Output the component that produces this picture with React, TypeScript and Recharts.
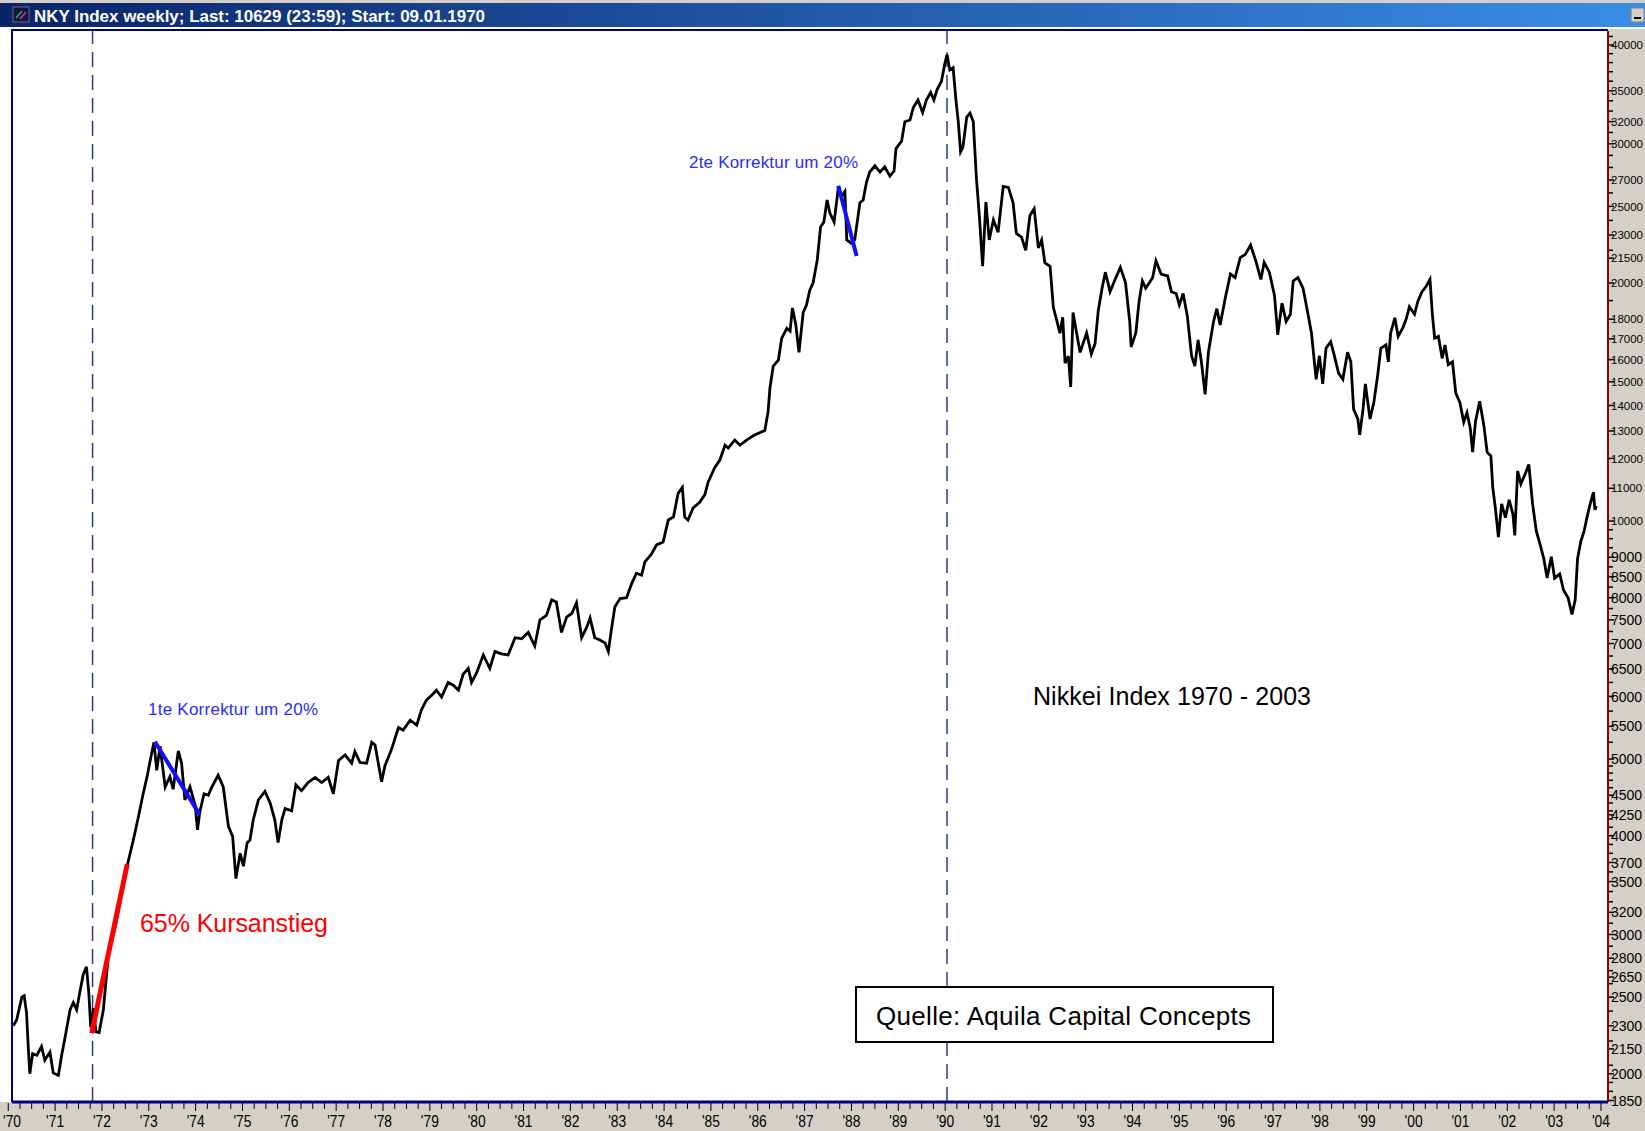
import React from "react";
import { LineChart, Line, XAxis, YAxis, ReferenceLine } from "recharts";

// weekly closes (decimal year, index points)
const weekDates = [
  1970.11, 1970.18, 1970.29, 1970.34, 1970.39, 1970.43, 1970.46, 1970.52, 1970.61, 1970.71,
  1970.78, 1970.89, 1970.96, 1971.07, 1971.14, 1971.21, 1971.32, 1971.39, 1971.46, 1971.53,
  1971.6, 1971.67, 1971.72, 1971.76, 1971.82, 1971.87, 1971.94, 1972.03, 1972.14, 1972.28,
  1972.42, 1972.56, 1972.67, 1972.78, 1972.88, 1972.97, 1973.03, 1973.11, 1973.17, 1973.24,
  1973.35, 1973.45, 1973.52, 1973.63, 1973.7, 1973.77, 1973.88, 1973.99, 1974.04, 1974.09,
  1974.18, 1974.27, 1974.34, 1974.48, 1974.59, 1974.7, 1974.79, 1974.86, 1974.95, 1975.02,
  1975.1, 1975.16, 1975.23, 1975.34, 1975.48, 1975.59, 1975.69, 1975.76, 1975.84, 1975.91,
  1976.05, 1976.14, 1976.26, 1976.4, 1976.55, 1976.69, 1976.83, 1976.94,
  1977.05, 1977.19, 1977.33, 1977.4, 1977.51, 1977.65, 1977.76, 1977.83, 1977.97, 1978.04,
  1978.18, 1978.33, 1978.43, 1978.58, 1978.72, 1978.82, 1978.93, 1979.04, 1979.14, 1979.25,
  1979.39, 1979.5, 1979.61, 1979.71, 1979.82, 1979.89, 1980.0, 1980.14, 1980.28, 1980.39,
  1980.53, 1980.67, 1980.82, 1980.96, 1981.1, 1981.24, 1981.35, 1981.49, 1981.6, 1981.7,
  1981.81, 1981.92, 1982.03, 1982.13, 1982.24, 1982.35, 1982.42, 1982.52, 1982.63, 1982.74,
  1982.81, 1982.88, 1982.95, 1983.06, 1983.2, 1983.31, 1983.41, 1983.52, 1983.59, 1983.73,
  1983.84, 1983.98, 1984.09, 1984.2, 1984.3, 1984.39, 1984.44, 1984.51, 1984.62, 1984.76,
  1984.87, 1984.94, 1985.08, 1985.19, 1985.3, 1985.37, 1985.51, 1985.62, 1985.76, 1985.9,
  1986.05, 1986.15,
  1986.22, 1986.26, 1986.33, 1986.44, 1986.51, 1986.62, 1986.69, 1986.74, 1986.81, 1986.88,
  1986.97, 1987.04, 1987.11, 1987.18, 1987.27, 1987.34, 1987.41, 1987.48, 1987.54, 1987.63,
  1987.72, 1987.79, 1987.86, 1987.9, 1988.0, 1988.07, 1988.18, 1988.25, 1988.32, 1988.39,
  1988.5, 1988.61, 1988.71, 1988.82, 1988.91, 1988.95, 1989.07, 1989.14, 1989.25, 1989.32,
  1989.42, 1989.52, 1989.6, 1989.69, 1989.76, 1989.83, 1989.92, 1989.99, 1990.04, 1990.1,
  1990.17, 1990.23, 1990.28, 1990.33, 1990.38, 1990.46, 1990.53, 1990.6, 1990.67, 1990.73,
  1990.8, 1990.87, 1990.94, 1991.03, 1991.13, 1991.24, 1991.35, 1991.45, 1991.52, 1991.63,
  1991.72, 1991.81, 1991.9, 1991.99, 1992.06, 1992.13, 1992.24, 1992.31, 1992.38, 1992.45,
  1992.51, 1992.56, 1992.63, 1992.68, 1992.73, 1992.8,
  1992.88, 1993.02, 1993.12, 1993.2, 1993.27, 1993.35, 1993.42, 1993.52, 1993.63, 1993.74,
  1993.85, 1993.94, 1993.97, 1994.07, 1994.14, 1994.21, 1994.28, 1994.36, 1994.43, 1994.5,
  1994.61, 1994.75, 1994.83, 1994.93, 1995.0, 1995.08, 1995.17, 1995.26, 1995.33, 1995.4,
  1995.47, 1995.55, 1995.62, 1995.73, 1995.8, 1995.87, 1995.98, 1996.09, 1996.19, 1996.3,
  1996.41, 1996.52, 1996.63, 1996.74, 1996.81, 1996.92, 1997.03, 1997.1, 1997.19, 1997.28,
  1997.37, 1997.43, 1997.53, 1997.64, 1997.73, 1997.82, 1997.92, 1997.99, 1998.06, 1998.13,
  1998.23, 1998.3, 1998.4, 1998.49, 1998.59, 1998.66, 1998.72, 1998.81, 1998.85, 1998.92,
  1998.97, 1999.07, 1999.15, 1999.23, 1999.3, 1999.41, 1999.46, 1999.51, 1999.6, 1999.67,
  1999.77, 1999.84, 1999.91, 2000.02, 2000.09, 2000.18, 2000.27, 2000.35, 2000.4, 2000.45,
  2000.53, 2000.61, 2000.67, 2000.74, 2000.83, 2000.9, 2000.99, 2001.07, 2001.14, 2001.21,
  2001.26, 2001.32, 2001.41, 2001.5, 2001.57, 2001.65, 2001.69, 2001.75, 2001.81, 2001.88,
  2001.96, 2002.04, 2002.12, 2002.16, 2002.22, 2002.29, 2002.39, 2002.46, 2002.54, 2002.62,
  2002.7, 2002.78, 2002.85, 2002.94, 2003.01, 2003.12, 2003.2, 2003.3, 2003.38, 2003.45,
  2003.5, 2003.57, 2003.64, 2003.7, 2003.77, 2003.84, 2003.87, 2003.9,
];

const closes = [
  2300, 2340, 2500, 2510, 2390, 2145, 2000, 2120, 2110, 2165,
  2080, 2130, 2005, 1990, 2110, 2220, 2410, 2460, 2410, 2540,
  2670, 2730, 2530, 2290, 2420, 2260, 2255, 2410, 2840, 3060,
  3380, 3710, 3950, 4230, 4520, 4770, 4980, 5250, 4840, 5190,
  4610, 4750, 4580, 5120, 4940, 4440, 4610, 4370, 4070, 4290,
  4520, 4500, 4600, 4770, 4610, 4110, 3990, 3530, 3800, 3660,
  3920, 3950, 4190, 4440, 4550, 4400, 4190, 3920, 4190, 4330,
  4300, 4640, 4560, 4670, 4740, 4670, 4740, 4520,
  4980, 5060, 4940, 5110, 4950, 4940, 5250, 5210, 4680, 4900,
  5140, 5480, 5440, 5600, 5520, 5770, 5940, 6020, 6110, 5990,
  6250, 6200, 6110, 6400, 6510, 6250, 6430, 6770, 6510, 6840,
  6790, 6770, 7120, 7100, 7230, 6950, 7500, 7600, 7950, 7900,
  7230, 7560, 7640, 7880, 7120, 7340, 7540, 7120, 7070, 7010,
  6840, 7320, 7790, 7980, 8000, 8340, 8590, 8540, 8880, 9080,
  9330, 9410, 10030, 10120, 10840, 11030, 10120, 10030, 10390, 10560,
  10800, 11200, 11680, 11940, 12470, 12370, 12660, 12470, 12660, 12820,
  12940, 13020,
  13740, 14730, 15700, 15980, 17020, 17530, 17380, 18600, 17740, 16340,
  18360, 18750, 19590, 20000, 21390, 23540, 23880, 25470, 24510, 23880,
  26420, 25730, 26110, 22670, 22440, 22670, 25260, 25470, 26820, 27630,
  28140, 27630, 28050, 27300, 27710, 29580, 30230, 31990, 32150, 33330,
  34080, 32860, 34080, 34830, 34080, 35160, 35960, 37800, 38900, 37200,
  37440, 34080, 31990, 29300, 29700, 32400, 32800, 32000, 27000, 24340,
  21000, 25320, 22670, 24030, 23180, 26500, 26420, 25260, 23100, 22860,
  22000, 24340, 24830, 22150, 22670, 21200, 21000, 18620, 17960, 17280,
  18100, 15830, 16170, 14780, 18350, 17380,
  16340, 17290, 16260, 16760, 18480, 19700, 20640, 19500, 20220, 20930,
  20020, 17880, 16600, 17290, 18960, 20120, 19700, 20020, 20320, 21340,
  20530, 20420, 19500, 19400, 18760, 19400, 18160, 16180, 15700, 16940,
  15900, 14460, 16350, 17880, 18560, 17700, 19150, 20530, 20320, 21540,
  21740, 22340, 21340, 20210, 21230, 20640, 19300, 17200, 18860, 17880,
  18260, 20120, 20320, 19700, 18470, 17290, 15110, 16180, 14910, 16540,
  16860, 16260, 15370, 15110, 16350, 15900, 13840, 13460, 12850, 13840,
  14910, 13460, 14110, 15230, 16540, 16700, 15900, 17290, 18070, 17120,
  17550, 17990, 18660, 18260, 18960, 19500, 19810, 20210, 18260, 17030,
  17120, 16060, 16700, 15770, 15900, 14520, 14110, 13340, 13710, 13100,
  12220, 13340, 14170, 13210, 12220, 12080, 11030, 10330, 9540, 10510,
  10100, 10640, 10200, 9590, 11570, 11140, 11500, 11790, 10510, 9710,
  9340, 8960, 8470, 9010, 8470, 8570, 8180, 7990, 7620, 7950,
  8960, 9430, 9710, 10100, 10510, 10880, 10330, 10450,
];

// labelled ticks of the right-hand log axis
const yLabels = [
  40000, 35000, 32000, 30000, 27000, 25000, 23000, 21500, 20000, 18000,
  17000, 16000, 15000, 14000, 13000, 12000, 11000, 10000, 9000, 8500,
  8000, 7500, 7000, 6500, 6000, 5500, 5000, 4500, 4250, 4000,
  3700, 3500, 3200, 3000, 2800, 2650, 2500, 2300, 2150, 2000, 1850,
];
// unlabelled minor ticks
const yMinor = [
  41000, 39000, 38000, 37000, 36000, 34000, 33000, 31000, 29000, 28000,
  26000, 24000, 22000, 19000,
  9750, 9500, 9250, 8750, 8250, 7750, 7250, 6750, 6250, 5750, 5250,
  4900, 4800, 4700, 4600, 4400, 4300, 4200, 4100, 3900, 3800, 3600,
  3400, 3300, 3100, 2900, 2700, 2600, 2400, 2200, 2050, 1950, 1900,
];

const xYears = [
  1970, 1971, 1972, 1973, 1974, 1975, 1976, 1977, 1978, 1979, 1980, 1981,
  1982, 1983, 1984, 1985, 1986, 1987, 1988, 1989, 1990, 1991, 1992, 1993,
  1994, 1995, 1996, 1997, 1998, 1999, 2000, 2001, 2002, 2003, 2004,
];

// annotation segments [start, end] as {x: year, y: points}
const riseSeg = [{ x: 1971.78, y: 2250 }, { x: 1972.54, y: 3680 }];
const corr1Seg = [{ x: 1973.13, y: 5260 }, { x: 1974.09, y: 4250 }];
const corr2Seg = [{ x: 1987.72, y: 26550 }, { x: 1988.11, y: 21630 }];
const markerYears = [1971.8, 1990.04];

const FONT = "'Liberation Sans', Arial, Helvetica, sans-serif";

const yTicks = [...yLabels, ...yMinor].sort((a, b) => a - b);
const xTicks: number[] = [];
xYears.forEach((y) => {
  [0, 0.25, 0.5, 0.75].forEach((q) => {
    const t = y + q;
    if (t <= 2004.1) xTicks.push(t);
  });
});

function XTick(props: any) {
  const { x, y, payload } = props;
  const v = payload.value as number;
  const isYear = Math.abs(v - Math.round(v)) < 0.001;
  const label = "'" + String(Math.round(v)).slice(2);
  return (
    <g>
      <line x1={x} x2={x} y1={y + 1} y2={y + (isYear ? 9 : 7)} stroke="#000" strokeWidth={1} />
      {isYear && (
        <text
          x={Math.max(x, 12)}
          y={y + 25}
          textAnchor="middle"
          fontSize={16}
          fontFamily={FONT}
          fill="#000"
          textLength={18}
          lengthAdjust="spacingAndGlyphs"
        >
          {label}
        </text>
      )}
    </g>
  );
}

function YTick(props: any) {
  const { x, y, payload } = props;
  const v = payload.value as number;
  const major = yLabels.includes(v);
  const wide = v >= 10000;
  return (
    <g>
      <line x1={x + 1} x2={x + (major ? 6 : 5)} y1={y} y2={y} stroke="#000" strokeWidth={1.5} />
      {major && (
        <text
          x={x + 3}
          y={y}
          dy="0.36em"
          fontSize={wide ? 11.5 : 14}
          fontFamily={FONT}
          fill="#000"
        >
          {v}
        </text>
      )}
    </g>
  );
}

export default function App() {
  const data = weekDates.map((t, i) => ({ t, v: closes[i] }));

  return (
    <div
      style={{
        position: "absolute",
        left: 0,
        top: 0,
        width: 1645,
        height: 1131,
        overflow: "hidden",
        background: "#fff",
        fontFamily: FONT,
      }}
    >
      <div style={{ position: "absolute", left: 1608, top: 29, width: 37, height: 1102, background: "#D4D0C8" }} />
      <div style={{ position: "absolute", left: 0, top: 1102, width: 1645, height: 29, background: "#D4D0C8" }} />

      <div style={{ position: "absolute", left: 0, top: 0 }}>
        <LineChart width={1645} height={1131} data={data} margin={{ top: 31, right: 0, bottom: 0, left: 12 }}>
          <XAxis
            dataKey="t"
            type="number"
            domain={[1970.08, 2004.15]}
            allowDataOverflow
            ticks={xTicks}
            interval={0}
            tick={(p: any) => <XTick {...p} />}
            tickLine={false}
            tickSize={0}
            tickMargin={0}
            height={29}
            axisLine={{ stroke: "#000080", strokeWidth: 3 }}
          />
          <YAxis
            orientation="right"
            type="number"
            scale="log"
            domain={[1842, 41660]}
            allowDataOverflow
            ticks={yTicks}
            interval={0}
            tick={(p: any) => <YTick {...p} />}
            tickLine={false}
            tickSize={0}
            tickMargin={0}
            width={37}
            axisLine={{ stroke: "#8B0000", strokeWidth: 2 }}
          />
          {markerYears.map((m) => (
            <ReferenceLine key={m} x={m} stroke="#2A3A96" strokeWidth={1.5} strokeDasharray="15 8" />
          ))}
          <Line
            dataKey="v"
            type="linear"
            stroke="#000"
            strokeWidth={2.8}
            dot={false}
            isAnimationActive={false}
          />
          <ReferenceLine segment={riseSeg} stroke="#FF0000" strokeWidth={5} ifOverflow="visible" />
          <ReferenceLine segment={corr1Seg} stroke="#1010FF" strokeWidth={4} ifOverflow="visible" />
          <ReferenceLine segment={corr2Seg} stroke="#1010FF" strokeWidth={4} ifOverflow="visible" />
        </LineChart>
      </div>

      <svg width={1645} height={1131} style={{ position: "absolute", left: 0, top: 0, pointerEvents: "none" }}>
        <defs>
          <linearGradient id="caption" x1="0" x2="1" y1="0" y2="0">
            <stop offset="0" stopColor="#0A246A" />
            <stop offset="1" stopColor="#3A8EE6" />
          </linearGradient>
        </defs>
        {/* window caption */}
        <rect x={0} y={0} width={1645} height={3} fill="#D4D0C8" />
        <rect x={0} y={3} width={1645} height={24} fill="url(#caption)" />
        <rect x={13} y={7} width={16} height={15} fill="#14143C" stroke="#6A6A8A" strokeWidth={1} />
        <line x1={16} y1={18} x2={22} y2={11} stroke="#20C040" strokeWidth={1.5} />
        <line x1={20} y1={19} x2={26} y2={12} stroke="#E020E0" strokeWidth={1.5} />
        <text
          x={34}
          y={22}
          fontSize={16}
          fontWeight="bold"
          fill="#fff"
          fontFamily={FONT}
          textLength={451}
          lengthAdjust="spacingAndGlyphs"
        >
          NKY Index weekly; Last: 10629 (23:59); Start: 09.01.1970
        </text>
        <rect x={1631} y={8} width={13} height={14} fill="#D4D0C8" stroke="#808080" />
        <line x1={1634} y1={18} x2={1641} y2={18} stroke="#000" strokeWidth={2} />

        {/* chart frame */}
        <rect x={11} y={29} width={1597} height={2} fill="#000080" />
        <rect x={11} y={29} width={2} height={1073} fill="#000080" />

        {/* annotations */}
        <text x={148} y={715} fontSize={17} fill="#2B2BFF" fontFamily={FONT} textLength={170} lengthAdjust="spacing">
          1te Korrektur um 20%
        </text>
        <text x={689} y={168} fontSize={17} fill="#2B2BFF" fontFamily={FONT} textLength={169} lengthAdjust="spacing">
          2te Korrektur um 20%
        </text>
        <text x={140} y={932} fontSize={25} fill="#FF0000" fontFamily={FONT} textLength={188} lengthAdjust="spacing">
          65% Kursanstieg
        </text>
        <text x={1033} y={705} fontSize={25} fill="#000" fontFamily={FONT} textLength={278} lengthAdjust="spacing">
          Nikkei Index 1970 - 2003
        </text>
        <rect x={856} y={987} width={417} height={55} fill="#fff" stroke="#000" strokeWidth={2} />
        <text x={876} y={1025} fontSize={26} fill="#000" fontFamily={FONT} textLength={375} lengthAdjust="spacing">
          Quelle: Aquila Capital Concepts
        </text>
      </svg>
    </div>
  );
}
